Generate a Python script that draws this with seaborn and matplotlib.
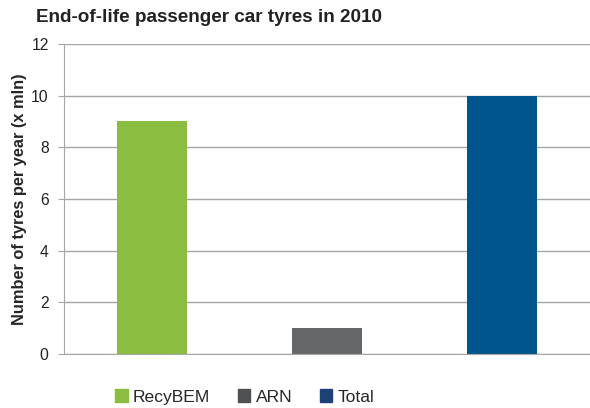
import matplotlib.pyplot as plt
import matplotlib.patches as mpatches
import seaborn as sns
import pandas as pd

# Data
categories = ["RecyBEM", "ARN", "Total"]
values = [9, 1, 10]
bar_colors = ["#8BBD40", "#656769", "#00558C"]
legend_colors = ["#8BBD40", "#4E5053", "#1B4175"]

sns.set_style("white")
plt.rcParams['font.family'] = ['Liberation Sans', 'DejaVu Sans']

df = pd.DataFrame({"category": categories, "value": values})

fig = plt.figure(figsize=(5.9, 4.08), dpi=100)
ax = fig.add_axes([0.1085, 0.1324, 0.8915, 0.7598])

sns.barplot(data=df, x="category", y="value", hue="category",
            palette=bar_colors, width=0.4, saturation=1, legend=False,
            linewidth=0, ax=ax)

ax.set_ylim(0, 12)
ax.set_xlim(-0.5, 2.5)
ax.set_yticks(range(0, 13, 2))
ax.set_xticks([])
ax.yaxis.grid(True, color="#A6A6A6", linewidth=1)
ax.set_axisbelow(True)
for side in ["top", "right"]:
    ax.spines[side].set_visible(False)
ax.spines["left"].set_color("#A6A6A6")
ax.spines["bottom"].set_color("#A6A6A6")
ax.tick_params(axis="y", which="both", left=True, length=4, color="#A6A6A6",
               labelsize=11.3, pad=7, labelcolor="#222222")
ax.set_xlabel("")
ax.set_ylabel("Number of tyres per year (x mln)", fontsize=11.8,
              fontweight="bold", labelpad=3)

fig.text(0.061, 0.958, "End-of-life passenger car tyres in 2010",
         fontsize=13.6, fontweight="bold", color="#222222", va="center")

handles = [mpatches.Patch(color=c, label=l) for c, l in zip(legend_colors, categories)]
fig.legend(handles=handles, loc="center", bbox_to_anchor=(0.415, 0.027),
           ncol=3, frameon=False, fontsize=12.6, handlelength=0.7,
           handleheight=0.7, handletextpad=0.3, columnspacing=1.6)

plt.savefig("out.png", dpi=100)
